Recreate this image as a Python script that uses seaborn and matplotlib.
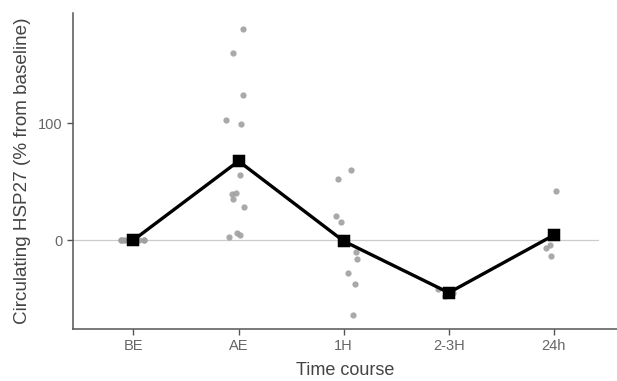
import numpy as np
import pandas as pd
import matplotlib
matplotlib.use("Agg")
import matplotlib.pyplot as plt
import seaborn as sns

categories = ["BE", "AE", "1H", "2-3H", "24h"]
be_vals = [0, 0, 0, 0, 0, 0, 0, 0, 0, 0, 0, 0]
ae_vals = [180, 160, 124, 99, 103, 56, 39, 40, 35, 28, 6, 3, 4]
h1_vals = [60, 52, 20.5, 15, -10, -16, -28, -37.6, -64]
h23_vals = [-48, -42, -45]
h24_vals = [42, -4, -7, -14]
yticks = [0, 100]

groups = [be_vals, ae_vals, h1_vals, h23_vals, h24_vals]
df = pd.DataFrame({
    "time": [c for c, g in zip(categories, groups) for _ in g],
    "value": [v for g in groups for v in g],
})

sns.set_theme(style="ticks")
plt.rcParams["font.family"] = ["Liberation Sans", "DejaVu Sans"]

fig = plt.figure(figsize=(6.17, 3.81), dpi=100)
ax = fig.add_axes([73 / 617, 1 - 329 / 381, 1 - 73 / 617, (329 - 13) / 381])

ax.axhline(0, xmin=0, xmax=(598 - 73) / (617 - 73), color="#cccccc", lw=0.9, zorder=0)

np.random.seed(3)
sns.stripplot(data=df, x="time", y="value", order=categories, jitter=0.13,
              color="#a0a0a0", size=4.5, alpha=0.9, linewidth=0, ax=ax, zorder=1)
sns.pointplot(data=df, x="time", y="value", order=categories, estimator="mean",
              errorbar=None, color="black", markers="s", markersize=6.8,
              linewidth=2.4, ax=ax)

ax.set_xlim(-0.575, 4.6)
ax.set_ylim(-76, 194)
ax.set_yticks(yticks)
ax.set_yticklabels([str(t) for t in yticks])

for s in ["top", "right"]:
    ax.spines[s].set_visible(False)
for s in ["left", "bottom"]:
    ax.spines[s].set_color("#555555")
    ax.spines[s].set_linewidth(1.1)

ax.tick_params(axis="both", colors="#555555", labelcolor="#666666",
               labelsize=10.5, length=4, width=1.0)
ax.set_xlabel("Time course", fontsize=13, color="#444444", labelpad=6)
ax.set_ylabel("Circulating HSP27 (% from baseline)", fontsize=13.6, color="#444444", labelpad=5)

fig.savefig("out.png", dpi=100)
